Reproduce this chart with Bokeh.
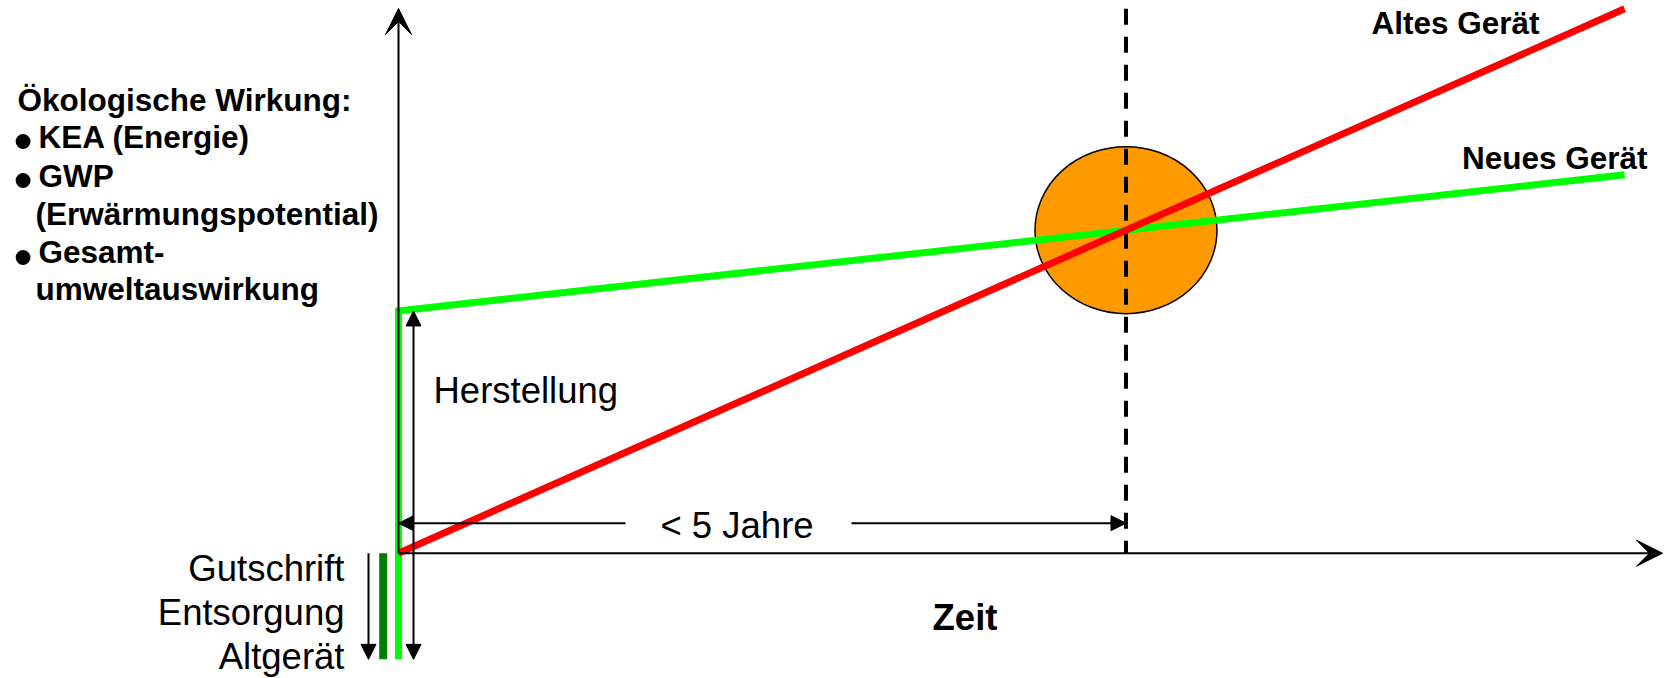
from bokeh.plotting import figure
from bokeh.models import Range1d, Arrow, NormalHead, VeeHead
from bokeh.core.properties import value
from bokeh.embed import file_html
from bokeh.resources import INLINE

# ---------------- data ----------------
time_years = [0.0, 7.6]          # start / end of the observed period (years)
old_impact = [0.0, 100.0]        # Altes Gerät: cumulated ecological impact
new_impact = [44.5, 69.5]        # Neues Gerät: after production / at end of period
disposal_credit = -19.5          # Gutschrift Entsorgung Altgerät
series_labels = ["Altes Gerät", "Neues Gerät"]
y_title_lines = ["Ökologische Wirkung:", "KEA (Energie)", "GWP", "(Erwärmungspotential)",
                 "Gesamt-", "umweltauswirkung"]
credit_lines = ["Gutschrift", "Entsorgung", "Altgerät"]
production_label = "Herstellung"
payback_label = "< 5 Jahre"
x_title = "Zeit"

# ---------------- layout ----------------
W, H = 1664, 678
OX, OY = 398.0, 552.7            # canvas pixel of the origin (from left / from top)
KX, KY = 161.33, 5.444           # pixels per year / per impact unit
FONT = value("Liberation Sans")
RED, GREEN, DKGREEN, ORANGE = "#FF0000", "#00FF00", "#008000", "#FF9900"


def tx(px):
    return (px - OX) / KX


def ty(py):
    return (OY - py) / KY


p = figure(width=W, height=H, output_backend="svg", toolbar_location=None,
           x_range=Range1d(-OX / KX, (W - OX) / KX),
           y_range=Range1d(-(H - OY) / KY, OY / KY),
           x_axis_location=None, y_axis_location=None, min_border=0,
           outline_line_color=None, background_fill_color="white",
           border_fill_color="white")
p.grid.visible = False

# break-even point (intersection of both lines)
slope_old = (old_impact[1] - old_impact[0]) / (time_years[1] - time_years[0])
slope_new = (new_impact[1] - new_impact[0]) / (time_years[1] - time_years[0])
t_be = (new_impact[0] - old_impact[0]) / (slope_old - slope_new)
y_be = old_impact[0] + slope_old * t_be


def vhead():
    return VeeHead(size=26, fill_color="black", line_color="black", line_width=1)


# coordinate axes
p.add_layout(Arrow(end=vhead(), x_start=0, y_start=0, x_end=0, y_end=ty(8),
                   line_color="black", line_width=2))
p.add_layout(Arrow(end=vhead(), x_start=0, y_start=0, x_end=tx(1662), y_end=0,
                   line_color="black", line_width=2))

# break-even ellipse and dashed line
p.ellipse(x=[t_be], y=[y_be], width=182, height=167, width_units="screen",
          height_units="screen", fill_color=ORANGE, line_color="black", line_width=1.5)
p.line(x=[t_be, t_be], y=[ty(8.3), 0], line_color="black", line_width=4,
       line_dash="16 12")

# disposal credit bar (dark green)
p.line(x=[-15.3 / KX, -15.3 / KX], y=[0, disposal_credit], line_color=DKGREEN,
       line_width=8)

# new device (green) and old device (red)
p.line(x=[time_years[0], time_years[0], time_years[1]],
       y=[disposal_credit, new_impact[0], new_impact[1]],
       line_color=GREEN, line_width=7, line_join="miter")
p.line(x=time_years, y=old_impact, line_color=RED, line_width=7)


# dimension arrows
def nhead():
    return NormalHead(size=15, fill_color="black", line_color="black", line_width=1)


p.add_layout(Arrow(start=nhead(), end=nhead(), x_start=15 / KX, y_start=disposal_credit,
                   x_end=15 / KX, y_end=new_impact[0], line_color="black", line_width=2))
p.add_layout(Arrow(end=nhead(), x_start=-30 / KX, y_start=0, x_end=-30 / KX,
                   y_end=disposal_credit, line_color="black", line_width=2))
y_arr = 30 / KY
p.add_layout(Arrow(end=nhead(), x_start=tx(625), y_start=y_arr, x_end=0, y_end=y_arr,
                   line_color="black", line_width=2))
p.add_layout(Arrow(end=nhead(), x_start=tx(851), y_start=y_arr, x_end=t_be, y_end=y_arr,
                   line_color="black", line_width=2))


def txt(s, px, baseline, size, bold=False, align="left"):
    # the renderer places the given y about 0.33 em above the drawn baseline
    py = baseline - 0.33 * size
    p.text(x=[tx(px)], y=[ty(py)], text=[s], text_font=FONT,
           text_font_size=value(f"{size}px"), text_font_style="bold" if bold else "normal",
           text_align=align, text_baseline="alphabetic", text_color="black")


# left title block
txt(y_title_lines[0], 17, 110, 31.5, True)
txt(y_title_lines[1], 38, 147, 31.5, True)
txt(y_title_lines[2], 38, 185.5, 31.5, True)
txt(y_title_lines[3], 35, 223.5, 31.5, True)
txt(y_title_lines[4], 38, 261.5, 31.5, True)
txt(y_title_lines[5], 35, 299, 31.5, True)
for cy in (140.5, 179, 256):
    p.text(x=[tx(13.5)], y=[ty(cy)], text=["•"], text_font=FONT,
           text_font_size=value("52px"), text_font_style="bold",
           text_align="left", text_baseline="alphabetic", text_color="black")

# series labels
txt(series_labels[0], 1539, 33, 31.5, True, "right")
txt(series_labels[1], 1647, 168, 31.5, True, "right")

# other labels
txt(production_label, 433, 402, 36.5)
txt(payback_label, 736.5, 537, 36.5, False, "center")
txt(x_title, 964.5, 629, 36.5, True, "center")
for s, b in zip(credit_lines, (580, 624.5, 668.5)):
    txt(s, 344, b, 36.5, False, "right")

open("out.html", "w").write(file_html(p, INLINE))
